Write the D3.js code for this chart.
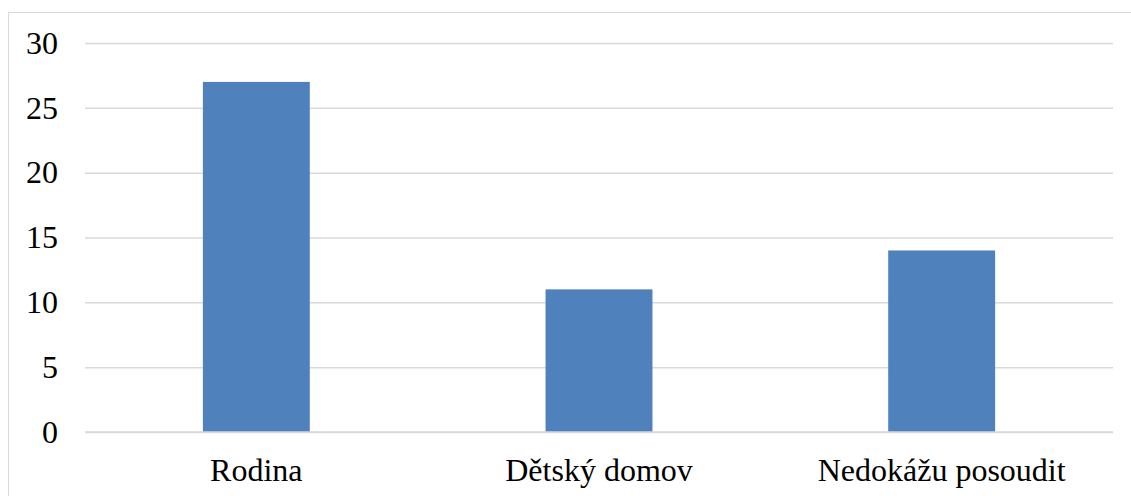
<!DOCTYPE html>
<html><head><meta charset="utf-8">
<script src="https://cdn.jsdelivr.net/npm/d3@7"></script>
<style>html,body{margin:0;padding:0;background:#fff;overflow:hidden}</style>
</head><body>
<svg id="c" width="1131" height="496"></svg>
<script>
const categories = ["Rodina", "Dětský domov", "Nedokážu posoudit"];
const values = [27, 11, 14];
const yTicks = [0, 5, 10, 15, 20, 25, 30];

const svg = d3.select("#c");
const W = 1131, H = 496;
const m = {left: 85, right: 18, top: 43, bottom: 64};
const FONT = "Liberation Serif";

svg.append("rect").attr("x", 8.5).attr("y", 12.5).attr("width", 1140).attr("height", 500)
  .attr("fill", "#fff").attr("stroke", "#d9d9d9").attr("stroke-width", 1);

const x = d3.scaleBand().domain(categories).range([m.left, W - m.right]).paddingInner(0.688).paddingOuter(0.344);
const y = d3.scaleLinear().domain([0, 30]).range([H - m.bottom, m.top]);

const gy = svg.append("g").attr("transform", `translate(${m.left},0)`)
  .call(d3.axisLeft(y).tickValues(yTicks).tickSize(-(W - m.left - m.right)).tickPadding(27));
gy.attr("font-family", FONT).attr("font-size", 32);
gy.select(".domain").remove();
gy.selectAll(".tick line").attr("stroke", "#d9d9d9").attr("stroke-width", 1.5);
gy.selectAll(".tick text").attr("fill", "#000");

svg.append("g").selectAll("rect").data(values).join("rect")
  .attr("x", (d, i) => x(categories[i]))
  .attr("y", d => y(d))
  .attr("width", x.bandwidth())
  .attr("height", d => y(0) - y(d))
  .attr("fill", "#4f81bd");

svg.append("line").attr("x1", m.left).attr("x2", W - m.right).attr("y1", y(0)).attr("y2", y(0))
  .attr("stroke", "#d9d9d9").attr("stroke-width", 1.5);

const gx = svg.append("g").attr("transform", `translate(0,${H - m.bottom})`)
  .call(d3.axisBottom(x).tickSize(0).tickPadding(26));
gx.attr("font-family", FONT).attr("font-size", 32);
gx.select(".domain").remove();
gx.selectAll(".tick text").attr("fill", "#000");
</script>
</body></html>
